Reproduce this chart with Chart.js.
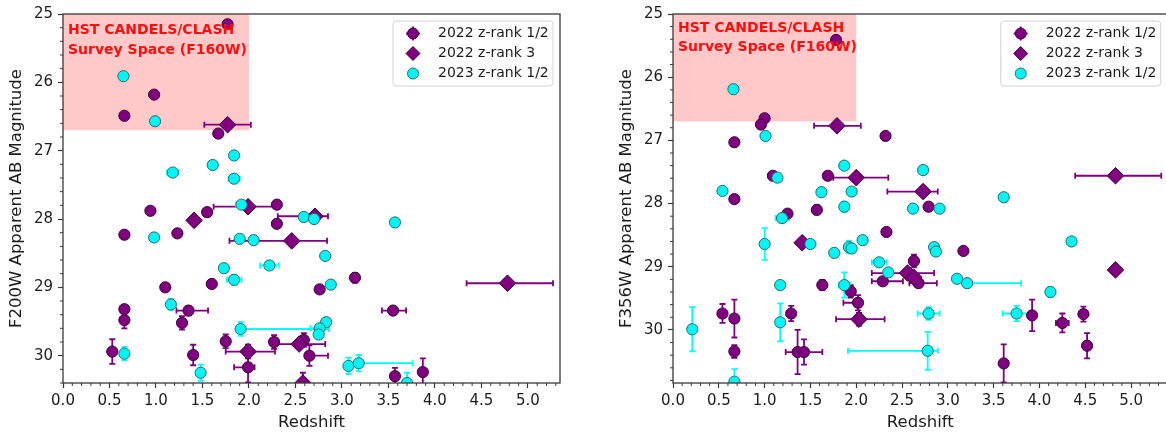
<!DOCTYPE html>
<html>
<head>
<meta charset="utf-8">
<script src="https://cdn.jsdelivr.net/npm/chart.js@4.4.1/dist/chart.umd.min.js"></script>
<style>
  html, body { margin: 0; padding: 0; background: #fff; overflow: hidden; width: 1166px; height: 437px; }
  .panel { position: absolute; top: 0; height: 437px; }
  #leftWrap { left: 0; width: 580px; }
  #rightWrap { left: 583px; width: 594px; }
</style>
</head>
<body>
<div class="panel" id="leftWrap"><canvas id="f200wChart" width="580" height="437"></canvas></div>
<div class="panel" id="rightWrap"><canvas id="f356wChart" width="594" height="437"></canvas></div>
<script>
// ============================================
// DATA  (rows: [redshift, mag, zErrLow, zErrHigh, magErr])
// ============================================
const seriesLabels = ['2022 z-rank 1/2', '2022 z-rank 3', '2023 z-rank 1/2'];
const redshiftTicks = [0, 0.5, 1.0, 1.5, 2.0, 2.5, 3.0, 3.5, 4.0, 4.5, 5.0];
const magTicks = [25, 26, 27, 28, 29, 30];
const surveyZRange = [0, 2.0];
const surveyMagRange = [25, 26.7];
const surveyText = ['HST CANDELS/CLASH', 'Survey Space (F160W)'];

// F200W panel
const f200w2022Rank12 = [
  [1.77, 25.15, 0, 0, 0], [0.98, 26.18, 0, 0, 0], [0.66, 26.49, 0, 0, 0], [1.67, 26.75, 0, 0, 0],
  [2.30, 27.79, 0, 0, 0], [0.94, 27.88, 0, 0, 0], [1.55, 27.90, 0, 0, 0], [1.23, 28.21, 0, 0, 0],
  [2.30, 28.07, 0, 0, 0], [0.66, 28.23, 0, 0, 0], [1.10, 29.00, 0, 0, 0], [1.60, 28.95, 0, 0, 0],
  [3.14, 28.86, 0, 0, 0.07], [2.76, 29.03, 0, 0, 0], [0.66, 29.32, 0, 0, 0], [0.66, 29.48, 0, 0, 0.12],
  [1.35, 29.34, 0.13, 0.21, 0.07], [1.28, 29.52, 0, 0, 0.1], [1.40, 29.99, 0, 0, 0.15],
  [0.53, 29.94, 0, 0, 0.18], [1.75, 29.79, 0, 0, 0.1], [1.99, 30.17, 0.15, 0.07, 0.22],
  [2.27, 29.80, 0, 0, 0.1], [2.59, 29.77, 0, 0, 0.1], [2.65, 30.00, 0, 0.2, 0.15],
  [3.57, 30.30, 0, 0, 0.12], [3.87, 30.24, 0, 0, 0.2], [3.55, 29.34, 0.12, 0.14, 0.05]
];
const f200w2022Rank3 = [
  [1.77, 26.62, 0.25, 0.25, 0], [1.41, 28.02, 0, 0, 0], [1.99, 27.82, 0.37, 0.30, 0],
  [2.46, 28.32, 0.67, 0.38, 0], [2.71, 27.96, 0.40, 0.14, 0], [4.78, 28.94, 0.44, 0.49, 0],
  [1.99, 29.94, 0.24, 0.29, 0.1], [2.54, 29.83, 0.25, 0.28, 0], [2.58, 30.40, 0, 0, 0.15]
];
const f200w2023Rank12 = [
  [0.65, 25.91, 0, 0, 0], [0.99, 26.57, 0, 0, 0], [1.84, 27.07, 0, 0, 0], [1.61, 27.21, 0, 0, 0],
  [1.18, 27.32, 0.06, 0.06, 0], [1.84, 27.41, 0.06, 0.06, 0], [1.92, 27.79, 0.06, 0, 0],
  [0.98, 28.27, 0, 0, 0], [1.90, 28.29, 0, 0, 0], [2.05, 28.31, 0, 0, 0], [2.59, 27.97, 0, 0, 0],
  [2.70, 28.00, 0, 0, 0], [2.82, 28.54, 0, 0, 0], [3.57, 28.05, 0, 0, 0], [1.73, 28.72, 0, 0, 0],
  [1.84, 28.89, 0.08, 0.08, 0.07], [2.22, 28.68, 0.1, 0.1, 0], [2.88, 28.96, 0, 0, 0],
  [1.16, 29.25, 0, 0, 0.08], [1.91, 29.61, 0, 0.95, 0.1], [2.83, 29.51, 0, 0, 0],
  [2.76, 29.60, 0.1, 0.1, 0], [2.75, 29.69, 0, 0, 0.05], [1.48, 30.25, 0, 0, 0.12],
  [3.07, 30.15, 0, 0, 0.12], [3.18, 30.11, 0, 0.58, 0.12], [3.70, 30.40, 0, 0, 0.15],
  [0.66, 29.97, 0, 0, 0.1]
];

// F356W panel
const f356w2022Rank12 = [
  [1.78, 25.41, 0, 0, 0], [1.00, 26.65, 0, 0, 0], [0.96, 26.75, 0, 0, 0], [0.67, 27.03, 0, 0, 0],
  [2.32, 26.93, 0, 0, 0], [1.09, 27.56, 0, 0, 0], [1.69, 27.56, 0, 0, 0], [0.67, 27.93, 0, 0, 0],
  [1.25, 28.16, 0, 0, 0], [1.57, 28.10, 0, 0, 0.07], [2.79, 28.05, 0, 0, 0], [2.33, 28.45, 0, 0, 0],
  [3.17, 28.75, 0, 0, 0.06], [2.63, 28.91, 0, 0, 0.1], [2.29, 29.23, 0.12, 0.22, 0],
  [2.68, 29.26, 0.1, 0.2, 0.06], [1.63, 29.29, 0, 0, 0.08], [1.94, 29.39, 0, 0, 0.1],
  [2.02, 29.57, 0.16, 0, 0.12], [1.29, 29.74, 0, 0, 0.12], [0.54, 29.74, 0, 0, 0.15],
  [0.67, 29.82, 0, 0, 0.3], [0.67, 30.34, 0, 0, 0.1], [1.36, 30.35, 0, 0, 0.35],
  [1.43, 30.35, 0.2, 0.2, 0.2], [3.61, 30.53, 0, 0, 0.3], [3.92, 29.77, 0, 0, 0.25],
  [4.25, 29.89, 0.07, 0.07, 0.15], [4.48, 29.75, 0, 0, 0.12], [4.52, 30.25, 0, 0, 0.2]
];
const f356w2022Rank3 = [
  [1.79, 26.77, 0.25, 0.26, 0], [2.00, 27.59, 0.25, 0.35, 0], [2.73, 27.81, 0.39, 0.16, 0],
  [4.83, 27.56, 0.44, 0.50, 0], [1.41, 28.62, 0, 0, 0], [2.03, 29.83, 0.25, 0.28, 0.1],
  [2.56, 29.10, 0.39, 0.29, 0], [2.63, 29.17, 0, 0, 0], [4.83, 29.05, 0, 0, 0]
];
const f356w2023Rank12 = [
  [0.66, 26.19, 0, 0, 0], [1.01, 26.93, 0, 0, 0], [0.54, 27.80, 0, 0, 0], [1.14, 27.59, 0, 0, 0],
  [1.87, 27.40, 0.05, 0.05, 0], [1.62, 27.82, 0, 0, 0], [1.95, 27.81, 0.05, 0.05, 0],
  [1.87, 28.05, 0, 0, 0.08], [2.73, 27.47, 0, 0, 0], [3.61, 27.90, 0, 0, 0], [2.62, 28.08, 0, 0, 0],
  [2.91, 28.08, 0, 0, 0], [4.35, 28.60, 0, 0, 0], [2.85, 28.69, 0, 0, 0], [2.87, 28.76, 0, 0, 0],
  [2.25, 28.93, 0.08, 0.08, 0.06], [2.35, 29.09, 0, 0, 0], [3.10, 29.19, 0, 0, 0],
  [3.21, 29.26, 0, 0.59, 0.06], [4.12, 29.40, 0, 0, 0.08], [3.75, 29.74, 0.15, 0.15, 0.12],
  [2.79, 29.74, 0.12, 0.12, 0.1], [2.78, 30.33, 0.87, 0.11, 0.3], [0.21, 29.99, 0, 0, 0.35],
  [1.00, 28.64, 0, 0, 0.25], [1.19, 28.23, 0.07, 0.07, 0], [1.50, 28.64, 0, 0, 0],
  [1.76, 28.78, 0, 0, 0], [1.92, 28.69, 0, 0, 0.1], [1.95, 28.71, 0, 0, 0], [2.07, 28.58, 0, 0, 0],
  [1.17, 29.29, 0, 0, 0], [1.87, 29.29, 0.06, 0.06, 0.2], [1.17, 29.88, 0, 0, 0.3],
  [0.67, 30.82, 0, 0, 0.2]
];

// ============================================
// STYLE
// ============================================
const PURPLE = '#800080';
const PURPLE_EDGE = '#3e003e';
const CYAN = '#00f5f5';
const CYAN_EDGE = '#2a6b6b';
const INK = '#1c1c1c';
const FONT = "'DejaVu Sans', sans-serif";

function buildDatasets(rank12, rank3, rank12New) {
  const pts = rows => rows.map(r => ({ x: r[0], y: r[1] }));
  return [
    { label: seriesLabels[0], rows: rank12, data: pts(rank12), pointStyle: 'circle', pointRadius: 5.6,
      backgroundColor: PURPLE, borderColor: PURPLE_EDGE, borderWidth: 1, errColor: PURPLE, order: 2, clip: 0 },
    { label: seriesLabels[1], rows: rank3, data: pts(rank3), pointStyle: 'rectRot', pointRadius: 8.3,
      backgroundColor: PURPLE, borderColor: PURPLE_EDGE, borderWidth: 1, errColor: PURPLE, order: 1, clip: 0 },
    { label: seriesLabels[2], rows: rank12New, data: pts(rank12New), pointStyle: 'circle', pointRadius: 5.6,
      backgroundColor: CYAN, borderColor: CYAN_EDGE, borderWidth: 1, errColor: '#00ffff', order: 0, clip: 0 }
  ];
}

// ============================================
// PLUGIN: survey box, error bars, spines, minor ticks, labels, legend
// ============================================
const panelDeco = {
  id: 'panelDeco',
  beforeDatasetsDraw(chart) {
    const { ctx, chartArea: a, scales: { x, y } } = chart;
    ctx.save();
    ctx.beginPath();
    ctx.rect(a.left, a.top, a.width, a.height);
    ctx.clip();

    // shaded survey region
    const x0 = x.getPixelForValue(surveyZRange[0]), x1 = x.getPixelForValue(surveyZRange[1]);
    const y0 = y.getPixelForValue(surveyMagRange[0]), y1 = y.getPixelForValue(surveyMagRange[1]);
    ctx.fillStyle = 'rgba(255,0,0,0.21)';
    ctx.fillRect(x0, Math.min(y0, y1), x1 - x0, Math.abs(y1 - y0));

    // error bars
    chart.data.datasets.forEach(ds => {
      ctx.strokeStyle = ds.errColor;
      ctx.lineWidth = 1.8;
      ds.rows.forEach(r => {
        const [z, m, zLo, zHi, mErr] = r;
        const px = x.getPixelForValue(z), py = y.getPixelForValue(m);
        ctx.beginPath();
        if (zLo || zHi) {
          const xa = x.getPixelForValue(z - zLo), xb = x.getPixelForValue(z + zHi);
          ctx.moveTo(xa, py); ctx.lineTo(xb, py);
          ctx.moveTo(xa, py - 3); ctx.lineTo(xa, py + 3);
          ctx.moveTo(xb, py - 3); ctx.lineTo(xb, py + 3);
        }
        if (mErr) {
          const ya = y.getPixelForValue(m - mErr), yb = y.getPixelForValue(m + mErr);
          ctx.moveTo(px, ya); ctx.lineTo(px, yb);
          ctx.moveTo(px - 3, ya); ctx.lineTo(px + 3, ya);
          ctx.moveTo(px - 3, yb); ctx.lineTo(px + 3, yb);
        }
        ctx.stroke();
      });
    });
    ctx.restore();
  },
  afterDraw(chart, args, opts) {
    const { ctx, chartArea: a, scales: { x, y } } = chart;
    ctx.save();

    // survey label
    ctx.fillStyle = '#ff0d0d';
    ctx.font = 'bold 14px ' + FONT;
    ctx.textAlign = 'left';
    ctx.textBaseline = 'middle';
    ctx.fillText(surveyText[0], a.left + 5, a.top + opts.textY[0]);
    ctx.fillText(surveyText[1], a.left + 5, a.top + opts.textY[1]);

    // spines
    ctx.strokeStyle = '#3a3a3a';
    ctx.lineWidth = 1.3;
    ctx.strokeRect(a.left, a.top, a.width, a.height);

    // minor ticks
    ctx.lineWidth = 1;
    ctx.beginPath();
    for (let k = 0; k / 10 <= x.max + 1e-9; k++) {
      if (k % 5 === 0) continue;
      const px = x.getPixelForValue(k / 10);
      ctx.moveTo(px, a.bottom); ctx.lineTo(px, a.bottom + 3);
    }
    for (let k = 0; 25 + k * 0.2 <= y.max + 1e-9; k++) {
      if (k % 5 === 0) continue;
      const py = y.getPixelForValue(25 + k * 0.2);
      ctx.moveTo(a.left - 3, py); ctx.lineTo(a.left, py);
    }
    ctx.stroke();

    // axis titles
    ctx.fillStyle = INK;
    ctx.font = '16.5px ' + FONT;
    ctx.textAlign = 'center';
    ctx.textBaseline = 'middle';
    ctx.fillText('Redshift', (a.left + a.right) / 2, 423);
    ctx.save();
    ctx.translate(a.left - 46, (a.top + a.bottom) / 2);
    ctx.rotate(-Math.PI / 2);
    ctx.fillText(opts.yTitle, 0, 0);
    ctx.restore();

    // legend
    const bw = 160, bh = 65;
    const bx = a.right - 7 - bw, by = a.top + 7;
    ctx.beginPath();
    if (ctx.roundRect) ctx.roundRect(bx, by, bw, bh, 3); else ctx.rect(bx, by, bw, bh);
    ctx.fillStyle = 'rgba(255,255,255,0.85)';
    ctx.fill();
    ctx.strokeStyle = '#d4d4d4';
    ctx.lineWidth = 1;
    ctx.stroke();

    const rowsY = [12.5, 32.5, 52.5];
    const mx = bx + 20;
    chart.data.datasets.forEach((ds, i) => {
      const cy = by + rowsY[i];
      if (i === 0) {
        ctx.strokeStyle = PURPLE; ctx.lineWidth = 1.8;
        ctx.beginPath();
        ctx.moveTo(mx - 7, cy); ctx.lineTo(mx + 7, cy);
        ctx.moveTo(mx, cy - 7); ctx.lineTo(mx, cy + 7);
        ctx.stroke();
      }
      ctx.beginPath();
      if (ds.pointStyle === 'rectRot') {
        ctx.moveTo(mx - 7, cy); ctx.lineTo(mx, cy - 7); ctx.lineTo(mx + 7, cy); ctx.lineTo(mx, cy + 7);
        ctx.closePath();
      } else {
        ctx.arc(mx, cy, 5.5, 0, Math.PI * 2);
      }
      ctx.fillStyle = ds.backgroundColor; ctx.fill();
      ctx.strokeStyle = ds.borderColor; ctx.lineWidth = 1; ctx.stroke();

      ctx.fillStyle = INK;
      ctx.font = '14px ' + FONT;
      ctx.textAlign = 'left';
      ctx.textBaseline = 'middle';
      ctx.fillText(ds.label, bx + 45, cy);
    });
    ctx.restore();
  }
};

// ============================================
// PANEL FACTORY
// ============================================
function makePanel(canvasId, cfg) {
  const ctx = document.getElementById(canvasId).getContext('2d');
  return new Chart(ctx, {
    type: 'scatter',
    data: { datasets: buildDatasets(cfg.rank12, cfg.rank3, cfg.rank12New) },
    options: {
      responsive: false,
      animation: false,
      events: [],
      layout: { padding: { left: 0, right: cfg.padRight, top: 13, bottom: 0 } },
      plugins: {
        legend: { display: false },
        tooltip: { enabled: false },
        panelDeco: { yTitle: cfg.yTitle, textY: cfg.textY }
      },
      scales: {
        x: {
          type: 'linear', min: 0, max: cfg.zMax,
          afterFit(s) { s.height = 54; },
          afterBuildTicks(s) { s.ticks = redshiftTicks.map(v => ({ value: v })); },
          border: { display: false },
          grid: { drawOnChartArea: false, drawTicks: true, tickLength: 5, tickColor: '#3a3a3a', tickWidth: 1.2 },
          ticks: { color: INK, font: { family: FONT, size: 15 }, padding: 4, maxRotation: 0,
                   callback: v => Number(v).toFixed(1) }
        },
        y: {
          type: 'linear', reverse: true, min: 25, max: cfg.magMax,
          afterFit(s) { s.width = cfg.yWidth; },
          afterBuildTicks(s) { s.ticks = magTicks.map(v => ({ value: v })); },
          border: { display: false },
          grid: { drawOnChartArea: false, drawTicks: true, tickLength: 5, tickColor: '#3a3a3a', tickWidth: 1.2 },
          ticks: { color: INK, font: { family: FONT, size: 15 }, padding: 5,
                   callback: v => String(v) }
        }
      }
    },
    plugins: [panelDeco]
  });
}

makePanel('f200wChart', {
  rank12: f200w2022Rank12, rank3: f200w2022Rank3, rank12New: f200w2023Rank12,
  yTitle: 'F200W Apparent AB Magnitude', zMax: 5.345, magMax: 30.4,
  yWidth: 63, padRight: 20, textY: [16.5, 36]
});
makePanel('f356wChart', {
  rank12: f356w2022Rank12, rank3: f356w2022Rank3, rank12New: f356w2023Rank12,
  yTitle: 'F356W Apparent AB Magnitude', zMax: 5.40, magMax: 30.84,
  yWidth: 90, padRight: 7, textY: [14.5, 33]
});
</script>
</body>
</html>
